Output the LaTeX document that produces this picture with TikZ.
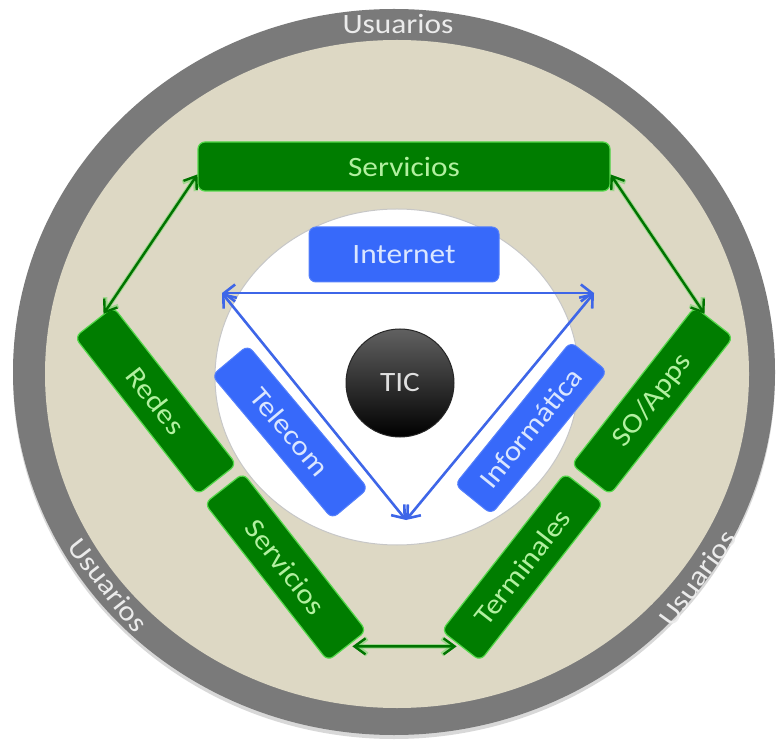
\documentclass[tikz,border=0pt]{standalone}
\usepackage{fontspec}
\setmainfont{Carlito}[FakeStretch=1.12]
\usetikzlibrary{arrows.meta,calc,shadows}

\definecolor{ringgray}{RGB}{122,122,122}
\definecolor{sand}{RGB}{221,216,196}
\definecolor{boxgreen}{RGB}{0,125,0}
\definecolor{glowgreen}{RGB}{85,215,75}
\definecolor{txtgreen}{RGB}{178,240,160}
\definecolor{boxblue}{RGB}{55,105,250}
\definecolor{txtblue}{RGB}{218,230,255}
\definecolor{arrowblue}{RGB}{62,102,232}

\begin{document}
\begin{tikzpicture}[
		x=1pt, y=1pt,
		capa/.style={fill=boxgreen, draw=glowgreen, line width=1.2pt, rounded corners=7pt, inner sep=0pt,
			minimum height=49pt, text=txtgreen, font=\fontsize{28}{31}\selectfont},
		area/.style={fill=boxblue, draw=boxblue!85!white, line width=1pt, rounded corners=7pt, inner sep=0pt,
			minimum height=47pt, text=txtblue, font=\fontsize{28}{31}\selectfont},
		usuario/.style={text=black!8, font=\fontsize{28}{31}\selectfont},
		garrow/.style={draw=green!45!black, line width=2.4pt, <->, >={Straight Barb[length=11pt,width=16pt]},
			preaction={draw=glowgreen, line width=4.4pt, opacity=.45}},
		barrow/.style={draw=arrowblue, line width=2.6pt, <->, >={Straight Barb[length=11pt,width=17pt]}},
	]
		\useasboundingbox (0,0) rectangle (778,742);
		\fill[white] (0,0) rectangle (778,742);

		% rings
		\fill[ringgray, drop shadow={shadow xshift=0pt, shadow yshift=-4pt, opacity=.3}] (394,370) ellipse [x radius=381, y radius=363];
		\fill[sand] (397,368) ellipse [x radius=352, y radius=334];
		\filldraw[fill=white, draw=black!22, line width=1pt] (397,365) ellipse [x radius=182, y radius=168];

		% outer layers
		\node (servtop) [capa, minimum width=412pt] at (404,575.5) {Servicios};
		\node (redes) [capa, minimum width=200pt, rotate=-52] at (155.6,341.2) {Redes};
		\node (servb) [capa, minimum width=200pt, rotate=-52] at (285.5,174.9) {Servicios};
		\node (soapps) [capa, minimum width=200pt, rotate=52] at (652.4,341.2) {SO/Apps};
		\node (term) [capa, minimum width=200pt, rotate=52] at (522.5,174.9) {Terminales};

		% inner areas
		\node (inet) [area, minimum width=190pt, minimum height=55pt] at (404,487.5) {Internet};
		\node (telecom) [area, minimum width=187pt, rotate=-50] at (290,310) {Telecom};
		\node (infor) [area, minimum width=184pt, rotate=51] at (531,314) {Informática};

		\node (tic) [circle, minimum size=108pt, top color=black!62, bottom color=black, draw=black!85,
			line width=1pt, text=black!12, font=\fontsize{28}{31}\selectfont] at (400,359) {TIC};

		\node (usr top) [usuario] at (398,718) {Usuarios};
		\node (usr left) [usuario, rotate=-52] at (108,157) {Usuarios};
		\node (usr right) [usuario, rotate=54] at (697,164) {Usuarios};

		% triangle between the areas
		\coordinate (tri left) at (222,449);
		\coordinate (tri right) at (594,449);
		\coordinate (tri low) at (406,222);
		\draw[barrow] (tri left) -- (tri right);
		\draw[barrow] (tri left) -- (tri low);
		\draw[barrow] (tri right) -- (tri low);

		\draw[garrow] ([yshift=-8pt]servtop.west) -- ($(redes.west)!.5!(redes.north west)$);
		\draw[garrow] ([yshift=-8pt]servtop.east) -- ($(soapps.east)!.5!(soapps.north east)$);
		\draw[garrow, shorten <=5pt, shorten >=4pt] (servb.east) -- (term.west);
	\end{tikzpicture}
\end{document}
